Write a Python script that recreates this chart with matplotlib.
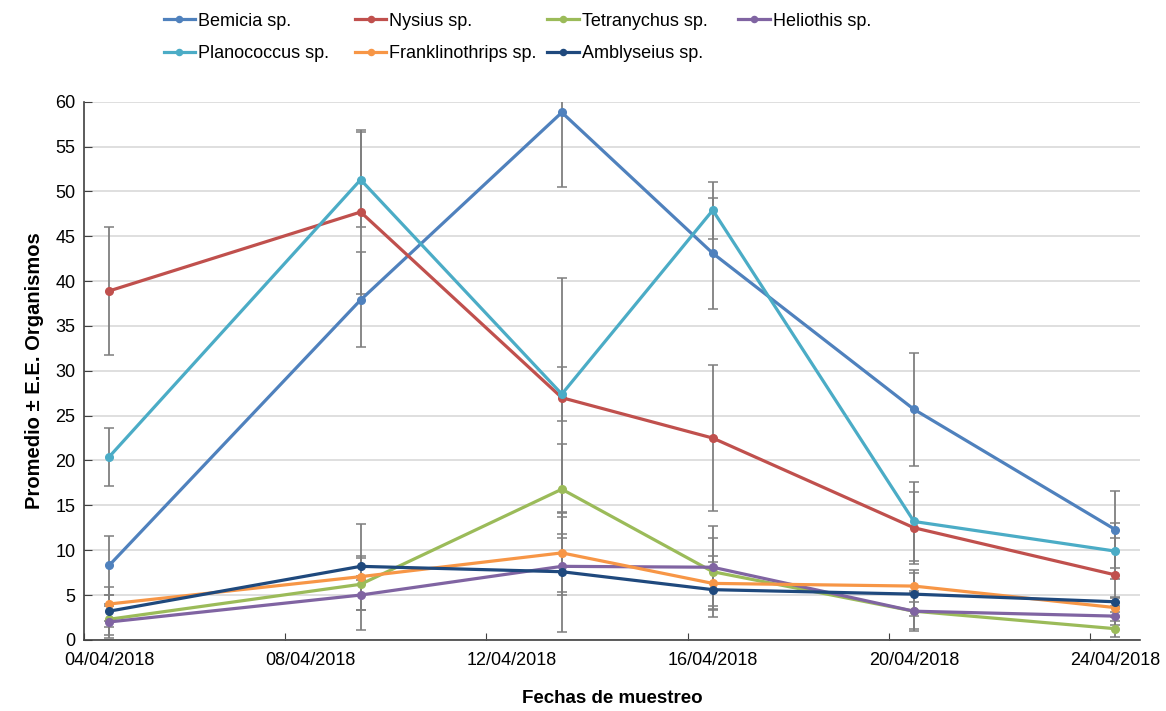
import matplotlib
matplotlib.use("Agg")
import matplotlib.pyplot as plt

plt.rcParams["font.family"] = ["Liberation Sans", "DejaVu Sans"]

# sampling days (April 2018) and tick labels
days = [4, 9, 13, 16, 20, 24]
tick_days = [4, 8, 12, 16, 20, 24]
tick_labels = ["04/04/2018", "08/04/2018", "12/04/2018", "16/04/2018", "20/04/2018", "24/04/2018"]

species = [
    "Bemicia sp.",
    "Nysius sp.",
    "Tetranychus sp.",
    "Heliothis sp.",
    "Planococcus sp.",
    "Franklinothrips sp.",
    "Amblyseius sp.",
]

bemicia = [8.3, 37.9, 58.8, 43.1, 25.7, 12.3]
bemicia_se = [3.3, 5.3, 8.3, 6.2, 6.3, 4.3]
nysius = [38.9, 47.7, 27.0, 22.5, 12.5, 7.25]
nysius_se = [7.1, 9.1, 13.3, 8.1, 4.0, 4.1]
tetranychus = [2.3, 6.2, 16.8, 7.6, 3.2, 1.25]
tetranychus_se = [1.7, 2.9, 5.0, 3.8, 2.0, 0.9]
heliothis = [2.0, 5.0, 8.2, 8.1, 3.2, 2.65]
heliothis_se = [1.8, 1.7, 3.2, 4.6, 2.2, 1.0]
planococcus = [20.4, 51.3, 27.4, 47.9, 13.2, 9.9]
planococcus_se = [3.2, 5.3, 3.0, 3.2, 4.4, 3.1]
franklinothrips = [4.0, 7.05, 9.7, 6.3, 6.0, 3.6]
franklinothrips_se = [1.9, 5.9, 4.4, 3.0, 1.8, 1.1]
amblyseius = [3.2, 8.2, 7.6, 5.6, 5.1, 4.25]
amblyseius_se = [1.8, 1.1, 6.7, 3.1, 2.4, 0.5]

means = [bemicia, nysius, tetranychus, heliothis, planococcus, franklinothrips, amblyseius]
errors = [bemicia_se, nysius_se, tetranychus_se, heliothis_se, planococcus_se,
          franklinothrips_se, amblyseius_se]
colors = ["#4F81BD", "#C0504D", "#9BBB59", "#8064A2", "#4BACC6", "#F79646", "#1F497D"]

fig = plt.figure(figsize=(11.66, 7.11), dpi=100)
ax = fig.add_axes([0.072, 0.1, 0.906, 0.757])

# points sit in the middle of each day on the date axis
x = [d + 0.5 for d in days]
handles = []
for name, m, e, c in zip(species, means, errors, colors):
    ax.errorbar(x, m, yerr=e, fmt="none", ecolor="#7f7f7f", elinewidth=1.3,
                capsize=3.5, capthick=1.1, zorder=2)
    h, = ax.plot(x, m, color=c, lw=2.3, marker="o", markersize=5.5, label=name, zorder=3)
    handles.append(h)

ax.set_xlim(4, 25)
ax.set_ylim(0, 60)
# tick marks on day boundaries, date labels centred on the day
ax.set_xticks(tick_days)
ax.set_xticklabels([])
ax.set_xticks([d + 0.5 for d in tick_days], minor=True)
ax.set_xticklabels(tick_labels, minor=True)
ax.set_yticks(range(0, 61, 5))
ax.tick_params(axis="x", which="major", direction="in", length=5, color="#404040")
ax.tick_params(axis="x", which="minor", length=0, labelsize=13, pad=9)
ax.tick_params(axis="y", direction="in", length=6, labelsize=13, pad=6, color="#404040")
ax.yaxis.grid(True, color="#d9d9d9", lw=1.2)
ax.set_axisbelow(True)
for s in ["top", "right"]:
    ax.spines[s].set_visible(False)
for s in ["left", "bottom"]:
    ax.spines[s].set_color("#404040")
    ax.spines[s].set_linewidth(1.2)

ax.set_xlabel("Fechas de muestreo", fontsize=13.5, fontweight="bold", labelpad=15)
ax.set_ylabel("Promedio ± E.E. Organismos", fontsize=14.5, fontweight="bold", labelpad=8)

# legend laid out as a grid of equal-width columns
columns = [[0, 4], [1, 5], [2, 6], [3]]
col_x = [0.1295, 0.2935, 0.4585, 0.6225]
for idx, cx in zip(columns, col_x):
    fig.legend([handles[i] for i in idx], [species[i] for i in idx], loc="upper left",
               bbox_to_anchor=(cx, 1.0), frameon=False, fontsize=13,
               handlelength=1.75, handletextpad=0.15, labelspacing=0.85,
               markerscale=0.8, borderaxespad=0.3)

fig.savefig("out.png", dpi=100)
